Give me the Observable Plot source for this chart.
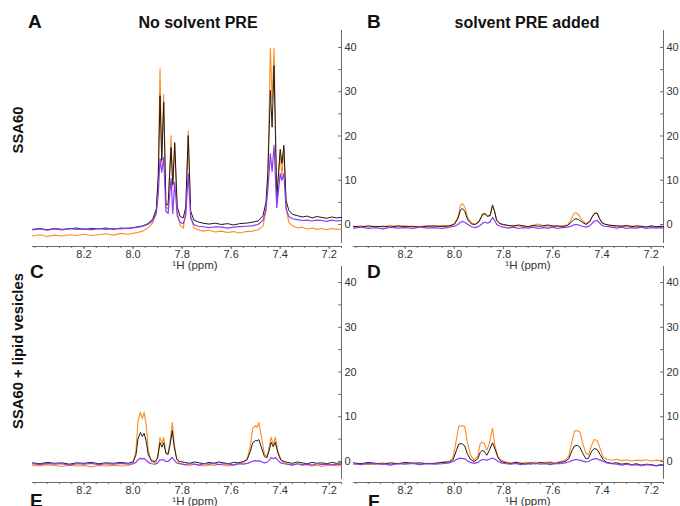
<!DOCTYPE html>
<html>
<head>
<meta charset="utf-8">
<script src="https://cdn.jsdelivr.net/npm/d3@7"></script>
<script src="https://cdn.jsdelivr.net/npm/@observablehq/plot@0.6"></script>
<style>
  html, body { margin: 0; padding: 0; background: #fff; }
  #wrap { position: relative; width: 680px; height: 506px; overflow: hidden; background: #fff; }
  #wrap svg { position: absolute; }
</style>
</head>
<body>
<div id="wrap"></div>
<script>
// ---------- tick labels ----------
const xTicks = [8.2, 8.0, 7.8, 7.6, 7.4, 7.2];
const yTicks = [0, 10, 20, 30, 40];
const xDomain = [8.41, 7.15];

// ---------- Panel A : SSA60, no solvent PRE ----------
const ppmA = [8.41, 8.38, 8.35, 8.32, 8.29, 8.26, 8.23, 8.20, 8.17, 8.14,
  8.11, 8.08, 8.05, 8.02, 7.99, 7.96, 7.94, 7.92, 7.905, 7.897,
  7.89, 7.883, 7.875, 7.866, 7.857, 7.845, 7.838, 7.83, 7.82, 7.808,
  7.795, 7.785, 7.775, 7.765, 7.752, 7.735, 7.715, 7.69, 7.665, 7.64,
  7.615, 7.59, 7.565, 7.54, 7.515, 7.49, 7.47, 7.458, 7.45, 7.44,
  7.433, 7.425, 7.414, 7.40, 7.393, 7.385, 7.376, 7.365, 7.35, 7.33,
  7.31, 7.29, 7.27, 7.25, 7.23, 7.21, 7.19, 7.17, 7.15];
const orangeA = [-2.6, -2.3, -2.7, -2.4, -2.6, -2.3, -2.5, -2.2, -2.5, -2.3,
  -2.1, -2.4, -2.0, -2.2, -1.9, -1.5, -0.8, 0.3, 3.0, 12,
  35.2, 14, 29.4, 4, 3.5, 20.1, 8.5, 17.9, 3, -0.2,
  -0.8, 3, 21.2, 2, -0.8, -1.2, -1.5, -1.3, -1.7, -1.5,
  -1.8, -1.6, -1.9, -1.6, -1.5, -1.2, -0.3, 3, 12, 39.8,
  28, 39.8, 5.4, 16.3, 11, 17.2, 4, 0.5, -0.3, -0.8,
  -0.6, -1.0, -0.8, -1.1, -0.9, -1.2, -0.9, -1.1, -1.0];
const blackA = [-1.1, -0.9, -1.2, -0.9, -1.1, -1.0, -0.8, -1.1, -0.9, -1.0,
  -0.8, -1.1, -0.8, -0.9, -0.6, -0.3, 0.2, 1.2, 3.5, 11,
  29.1, 14.5, 27.6, 4.5, 4.5, 17.4, 9, 18.5, 4, 1.8,
  1.5, 4, 20.1, 3, 1.0, 0.6, 0.3, 0.1, 0.3, 0.0,
  0.2, -0.1, 0.2, 0.3, 0.5, 0.8, 2.0, 5, 12, 30.3,
  22, 35.9, 6, 17, 13.8, 17.9, 5.5, 3.2, 2.3, 2.0,
  1.7, 1.9, 1.5, 1.8, 1.6, 1.4, 1.7, 1.5, 1.6];
const purpleA = [-1.2, -1.0, -1.3, -1.0, -1.2, -0.9, -1.1, -1.0, -1.2, -0.9,
  -1.1, -0.9, -1.0, -0.8, -0.7, -0.4, 0.0, 0.8, 2.5, 7,
  14.9, 11.8, 15.1, 3.0, 2.5, 10.4, 2.5, 9.5, 2.0, 0.5,
  0.2, 2.0, 11.5, 1.5, 0.0, -0.4, -0.5, -0.7, -0.5, -0.6,
  -0.8, -0.6, -0.5, -0.4, -0.3, 0.0, 1.0, 3.5, 8, 16.0,
  12, 17.9, 3.8, 11.5, 10, 11.5, 3.5, 1.8, 1.3, 1.1,
  0.9, 1.0, 0.8, 1.0, 0.9, 0.7, 1.0, 0.8, 0.9];

// ---------- Panel B : SSA60, solvent PRE added ----------
const ppmB = [8.41, 8.38, 8.35, 8.32, 8.29, 8.26, 8.23, 8.20, 8.17, 8.14,
  8.11, 8.08, 8.05, 8.02, 8.00, 7.985, 7.975, 7.967, 7.958, 7.945,
  7.93, 7.915, 7.90, 7.885, 7.875, 7.865, 7.855, 7.845, 7.837, 7.828,
  7.815, 7.80, 7.78, 7.76, 7.74, 7.72, 7.70, 7.68, 7.66, 7.64,
  7.62, 7.60, 7.58, 7.56, 7.54, 7.525, 7.515, 7.506, 7.495, 7.48,
  7.465, 7.45, 7.44, 7.43, 7.42, 7.41, 7.40, 7.39, 7.375, 7.36,
  7.34, 7.32, 7.30, 7.28, 7.26, 7.24, 7.22, 7.20, 7.18, 7.16, 7.15];
const orangeB = [-0.5, -0.3, -0.6, -0.4, -0.5, -0.2, -0.5, -0.3, -0.6, -0.4,
  -0.3, -0.5, -0.2, -0.3, 0.2, 1.8, 4.3, 4.7, 4.0, 1.5,
  0.3, 0.1, 0.8, 2.4, 2.5, 1.8, 2.0, 4.5, 3.2, 1.0,
  0.2, -0.1, -0.3, -0.2, -0.4, -0.3, -0.5, -0.2, 0.1, -0.3,
  -0.4, -0.2, -0.5, -0.3, -0.1, 1.2, 2.4, 2.7, 2.2, 0.9,
  0.2, 0.8, 1.8, 2.6, 2.5, 1.4, 0.5, 0.1, -0.1, -0.3,
  -0.4, -0.3, -0.5, -0.3, -0.6, -0.4, -0.5, -0.4, -0.6, -0.5, -0.4];
const blackB = [-0.4, -0.6, -0.3, -0.5, -0.4, -0.6, -0.3, -0.5, -0.4, -0.6,
  -0.4, -0.3, -0.5, -0.3, 0.0, 1.4, 3.3, 3.6, 3.0, 1.0,
  0.1, 0.0, 0.6, 2.3, 2.4, 1.9, 2.0, 4.3, 3.0, 0.9,
  0.2, 0.0, -0.2, -0.4, -0.1, -0.3, -0.5, -0.2, -0.4, -0.3,
  -0.1, -0.4, -0.3, -0.5, -0.2, 0.5, 1.1, 1.3, 1.1, 0.5,
  0.0, 0.6, 1.7, 2.5, 2.6, 1.3, 0.4, 0.1, -0.1, -0.2,
  -0.3, -0.4, -0.2, -0.5, -0.3, -0.4, -0.6, -0.3, -0.5, -0.4, -0.5];
const purpleB = [-0.8, -0.6, -0.9, -0.7, -1.0, -0.6, -0.8, -0.7, -0.9, -0.6,
  -0.8, -0.7, -0.9, -0.6, -0.4, 0.0, 0.5, 0.7, 0.5, 0.0,
  -0.5, -0.7, -0.4, 0.3, 0.5, 0.3, 0.6, 1.6, 1.0, 0.0,
  -0.4, -0.6, -0.8, -0.6, -0.9, -0.7, -0.8, -0.6, -0.9, -0.7,
  -0.8, -0.6, -0.9, -0.7, -0.6, -0.4, -0.1, 0.0, -0.1, -0.4,
  -0.6, -0.3, 0.3, 0.8, 0.9, 0.4, -0.2, -0.4, -0.5, -0.6,
  -0.8, -0.6, -0.9, -0.7, -0.8, -0.6, -0.9, -0.7, -0.8, -0.7, -0.8];

// ---------- Panel C : SSA60 + lipid vesicles, no solvent PRE ----------
const ppmC = [8.41, 8.38, 8.35, 8.32, 8.29, 8.26, 8.23, 8.20, 8.17, 8.14,
  8.11, 8.08, 8.05, 8.02, 8.00, 7.988, 7.98, 7.97, 7.962, 7.955,
  7.946, 7.938, 7.925, 7.91, 7.90, 7.89, 7.882, 7.875, 7.866, 7.857,
  7.848, 7.84, 7.832, 7.822, 7.81, 7.79, 7.77, 7.75, 7.73, 7.71,
  7.69, 7.67, 7.65, 7.63, 7.61, 7.59, 7.57, 7.55, 7.535, 7.522,
  7.512, 7.50, 7.494, 7.487, 7.478, 7.465, 7.455, 7.446, 7.437, 7.428,
  7.42, 7.41, 7.398, 7.385, 7.37, 7.35, 7.33, 7.31, 7.29, 7.27,
  7.25, 7.23, 7.21, 7.19, 7.17, 7.15];
const orangeC = [-0.8, -1.0, -0.7, -0.9, -1.1, -0.8, -1.0, -0.9, -1.2, -0.9,
  -1.0, -0.8, -1.0, -0.9, -0.5, 2.5, 9.0, 11.0, 9.6, 11.0,
  8.0, 2.5, 0.0, -0.3, 0.8, 5.4, 4.0, 5.4, 2.0, 1.8,
  5.0, 8.7, 4.0, 0.5, -0.4, -0.7, -0.9, -0.6, -0.8, -1.0,
  -0.7, -0.9, -0.6, -0.8, -1.0, -0.7, -0.5, -0.3, 0.5, 3.5,
  7.5, 8.0, 7.6, 8.7, 6.0, 1.8, 1.0, 3.0, 5.4, 3.8,
  5.4, 2.5, 0.5, -0.3, -0.6, -0.8, -0.5, -0.9, -0.7, -1.0,
  -0.8, -1.1, -0.9, -0.7, -1.0, -0.9];
const blackC = [-0.3, -0.5, -0.2, -0.4, -0.3, -0.6, -0.3, -0.4, -0.2, -0.5,
  -0.3, -0.4, -0.2, -0.4, -0.1, 1.5, 5.0, 6.5, 5.6, 6.3,
  4.5, 1.5, 0.2, 0.0, 0.8, 4.2, 3.2, 4.2, 1.8, 1.6,
  4.0, 6.9, 3.2, 0.6, 0.0, -0.2, -0.4, -0.1, -0.3, -0.5,
  -0.2, -0.4, -0.1, -0.3, -0.5, -0.2, -0.3, 0.0, 0.4, 2.2,
  4.2, 4.7, 4.6, 4.9, 3.4, 1.2, 0.8, 2.2, 4.3, 3.3,
  4.3, 2.0, 0.4, 0.0, -0.2, -0.4, -0.1, -0.3, -0.5, -0.2,
  -0.4, -0.3, -0.5, -0.2, -0.4, -0.3];
const purpleC = [-0.5, -0.7, -0.4, -0.6, -0.5, -0.8, -0.5, -0.6, -0.4, -0.7,
  -0.5, -0.6, -0.4, -0.6, -0.5, -0.2, 0.4, 0.7, 0.6, 0.7,
  0.3, -0.2, -0.5, -0.6, -0.3, 0.4, 0.3, 0.4, 0.0, 0.0,
  0.5, 0.9, 0.3, -0.3, -0.5, -0.7, -0.5, -0.6, -0.8, -0.5,
  -0.6, -0.4, -0.7, -0.5, -0.6, -0.8, -0.5, -0.6, -0.4, -0.2,
  0.1, 0.2, 0.1, 0.2, 0.0, -0.3, -0.2, 0.2, 0.9, 0.6,
  0.9, 0.3, -0.3, -0.5, -0.6, -0.8, -0.5, -0.7, -0.6, -0.8,
  -0.5, -0.7, -0.6, -0.8, -0.6, -0.7];

// ---------- Panel D : SSA60 + lipid vesicles, solvent PRE added ----------
const ppmD = [8.41, 8.38, 8.35, 8.32, 8.29, 8.26, 8.23, 8.20, 8.17, 8.14,
  8.11, 8.08, 8.05, 8.02, 8.005, 7.993, 7.982, 7.97, 7.958, 7.948,
  7.935, 7.92, 7.905, 7.895, 7.887, 7.879, 7.868, 7.858, 7.845, 7.835,
  7.822, 7.81, 7.79, 7.77, 7.75, 7.73, 7.71, 7.69, 7.67, 7.65,
  7.63, 7.61, 7.59, 7.57, 7.55, 7.535, 7.522, 7.512, 7.5, 7.49,
  7.478, 7.465, 7.455, 7.443, 7.432, 7.42, 7.408, 7.395, 7.38, 7.36,
  7.34, 7.32, 7.30, 7.28, 7.26, 7.24, 7.22, 7.20, 7.18, 7.16, 7.15];
const orangeD = [-0.6, -0.4, -0.7, -0.5, -0.3, -0.6, -0.4, -0.5, -0.3, -0.6,
  -0.4, -0.5, -0.2, 0.0, 1.0, 4.5, 7.9, 8.0, 7.8, 4.5,
  1.5, 0.3, 1.2, 4.0, 4.3, 4.1, 2.5, 4.0, 7.4, 3.5,
  1.0, 0.3, -0.1, -0.3, -0.1, -0.4, -0.2, -0.3, -0.1, -0.4,
  -0.2, -0.1, -0.3, 0.0, 0.2, 1.2, 4.5, 6.8, 6.9, 6.6,
  4.0, 1.8, 1.5, 3.5, 4.9, 4.7, 3.0, 1.0, 0.5, 0.3,
  0.5, 0.2, 0.4, 0.1, 0.3, 0.2, 0.4, 0.1, 0.3, 0.2, 0.3];
const blackD = [-0.3, -0.5, -0.2, -0.4, -0.6, -0.3, -0.5, -0.2, -0.4, -0.3,
  -0.5, -0.4, -0.2, -0.1, 0.4, 2.3, 3.9, 4.0, 3.5, 1.8,
  0.5, 0.0, 0.6, 2.0, 2.5, 2.3, 1.4, 2.5, 4.2, 2.8,
  0.8, 0.0, -0.3, -0.5, -0.2, -0.4, -0.6, -0.3, -0.5, -0.2,
  -0.4, -0.3, -0.5, -0.2, 0.0, 0.6, 2.4, 3.5, 3.6, 3.2,
  1.8, 0.6, 0.7, 2.2, 2.9, 2.7, 1.6, 0.4, -0.2, -0.4,
  -0.3, -0.6, -0.4, -0.7, -0.5, -0.8, -0.6, -0.7, -0.9, -0.7, -0.8];
const purpleD = [-0.5, -0.7, -0.4, -0.6, -0.5, -0.8, -0.5, -0.6, -0.4, -0.7,
  -0.5, -0.6, -0.5, -0.3, 0.0, 0.4, 0.7, 0.7, 0.6, 0.2,
  -0.2, -0.4, -0.2, 0.2, 0.4, 0.4, 0.3, 0.5, 0.8, 0.5,
  0.0, -0.3, -0.5, -0.6, -0.4, -0.7, -0.5, -0.6, -0.4, -0.6,
  -0.5, -0.7, -0.4, -0.5, -0.3, -0.1, 0.2, 0.4, 0.4, 0.3,
  0.1, -0.1, 0.0, 0.4, 0.6, 0.6, 0.3, 0.0, -0.3, -0.5,
  -0.6, -0.8, -0.6, -0.8, -0.7, -0.9, -0.7, -0.8, -1.0, -0.8, -0.9];

// ---------- styling ----------
const ORANGE = "#ff8c1f", BLACK = "#1c1c1c", PURPLE = "#8a3cf6";
const AXIS = "#6b6b6b", TEXT = "#333";
const FONT = "'Liberation Sans', Arial, Helvetica, sans-serif";

const xMinor = d3.range(0, 26).map(i => +(8.40 - i * 0.05).toFixed(2));
const yMinor = d3.range(0, 9).map(i => i * 5);

function makePanel(ppm, orange, black, purple, cfg) {
  const rows = vals => ppm.map((p, i) => ({ppm: p, v: vals[i]}));
  const svg = Plot.plot({
    width: cfg.width, height: cfg.height,
    marginLeft: cfg.ml, marginRight: cfg.mr, marginTop: cfg.mt, marginBottom: cfg.mb,
    x: {domain: xDomain},
    y: {domain: cfg.yDomain},
    style: {background: "transparent", overflow: "visible", fontFamily: FONT, fontSize: "11px", color: TEXT},
    marks: [
      Plot.ruleY([cfg.yDomain[0]], {x1: xDomain[0], x2: xDomain[1], stroke: AXIS, strokeWidth: 1}),
      Plot.ruleX([xDomain[1]], {y1: cfg.axisBottom, y2: cfg.yDomain[1], stroke: AXIS, strokeWidth: 1}),
      Plot.axisX({ticks: xMinor, tickSize: 2, tickFormat: () => "", label: null, stroke: AXIS}),
      Plot.axisX({ticks: xTicks, tickSize: 3, tickPadding: 1, tickFormat: d => d.toFixed(1), label: null, stroke: AXIS, fill: TEXT, fontSize: 11}),
      Plot.ruleY(yMinor, {x1: xDomain[1], x2: xDomain[1] + 0.012, stroke: AXIS}),
      Plot.axisY({anchor: "right", ticks: yTicks, tickSize: 0, tickPadding: 3, label: null, fill: TEXT, fontSize: 11}),
      Plot.line(rows(orange), {x: "ppm", y: "v", stroke: ORANGE, strokeWidth: 1.1}),
      Plot.line(rows(black), {x: "ppm", y: "v", stroke: BLACK, strokeWidth: 1}),
      Plot.line(rows(purple), {x: "ppm", y: "v", stroke: PURPLE, strokeWidth: 1.2})
    ]
  });
  svg.style.left = cfg.left + "px";
  svg.style.top = cfg.top + "px";
  return svg;
}

const wrap = document.getElementById("wrap");
// top row: 0 -> y 224, 40 -> y 47  (4.425 px / unit); plot 30..246
const topY = {yDomain: [-4.97, 43.84], axisBottom: -4.29, mt: 30, mb: 29, height: 275};
// bottom row: 0 -> y 461, 40 -> y 282 (4.475 px / unit); plot 266..482
const botY = {yDomain: [-4.69, 43.58], axisBottom: -4.0, mt: 30, mb: 29, height: 275};
const leftX = {left: 0, width: 372, ml: 32, mr: 31};
const rightX = {left: 340, width: 340, ml: 13, mr: 17};

wrap.appendChild(makePanel(ppmA, orangeA, blackA, purpleA, {...topY, ...leftX, top: 0}));
wrap.appendChild(makePanel(ppmB, orangeB, blackB, purpleB, {...topY, ...rightX, top: 0}));
wrap.appendChild(makePanel(ppmC, orangeC, blackC, purpleC, {...botY, ...leftX, top: 236}));
wrap.appendChild(makePanel(ppmD, orangeD, blackD, purpleD, {...botY, ...rightX, top: 236}));

// ---------- text overlay ----------
const labels = [
  {t: "A", x: 28, y: 28, size: 19, bold: true, anchor: "start"},
  {t: "No solvent PRE", x: 198, y: 28, size: 16, bold: true, anchor: "middle"},
  {t: "B", x: 367, y: 28, size: 19, bold: true, anchor: "start"},
  {t: "solvent PRE added", x: 527, y: 28, size: 16, bold: true, anchor: "middle"},
  {t: "C", x: 30, y: 278, size: 19, bold: true, anchor: "start"},
  {t: "D", x: 367, y: 278, size: 19, bold: true, anchor: "start"},
  {t: "E", x: 30, y: 507, size: 19, bold: true, anchor: "start"},
  {t: "F", x: 368, y: 508, size: 19, bold: true, anchor: "start"},
  {t: "¹H (ppm)", x: 195, y: 268.5, size: 11.5, bold: false, anchor: "middle"},
  {t: "¹H (ppm)", x: 528, y: 268.5, size: 11.5, bold: false, anchor: "middle"},
  {t: "¹H (ppm)", x: 195, y: 504.5, size: 11.5, bold: false, anchor: "middle"},
  {t: "¹H (ppm)", x: 528, y: 504.5, size: 11.5, bold: false, anchor: "middle"},
  {t: "SSA60", x: 23, y: 130, size: 14.8, bold: true, anchor: "middle", rot: true},
  {t: "SSA60 + lipid vesicles", x: 23, y: 351, size: 14.8, bold: true, anchor: "middle", rot: true}
];
const ov = d3.create("svg").attr("width", 680).attr("height", 506)
  .style("left", "0px").style("top", "0px").style("pointer-events", "none");
ov.selectAll("text").data(labels).join("text")
  .attr("transform", d => `translate(${d.x},${d.y})` + (d.rot ? " rotate(-90)" : ""))
  .attr("text-anchor", d => d.anchor)
  .attr("font-family", FONT)
  .attr("font-size", d => d.size)
  .attr("font-weight", d => d.bold ? "bold" : "normal")
  .attr("fill", d => d.bold ? "#111" : TEXT)
  .text(d => d.t);
wrap.appendChild(ov.node());
</script>
</body>
</html>
